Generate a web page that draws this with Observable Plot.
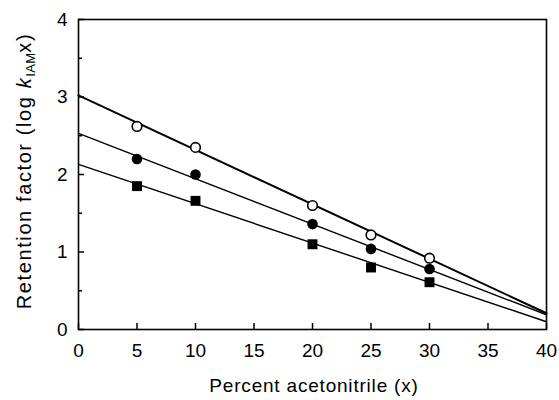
<!DOCTYPE html>
<html>
<head>
<meta charset="utf-8">
<script src="https://cdn.jsdelivr.net/npm/d3@7"></script>
<script src="https://cdn.jsdelivr.net/npm/@observablehq/plot@0.6"></script>
<style>
  html, body { margin: 0; padding: 0; background: #fff; }
  #chart { width: 559px; height: 400px; }
</style>
</head>
<body>
<div id="chart"></div>
<script>
// ---- data ----
const xTicks = [0, 5, 10, 15, 20, 25, 30, 35, 40];
const yTicks = [0, 1, 2, 3, 4];
const yMinorTicks = [0.5, 1.5, 2.5, 3.5];

const percent = [5, 10, 20, 25, 30];
const openCircle = [2.62, 2.35, 1.60, 1.22, 0.92];
const filledCircle = [2.20, 2.00, 1.36, 1.04, 0.78];
const filledSquare = [1.85, 1.66, 1.10, 0.80, 0.61];

const fitX = [0, 40];
const fitOpen = [3.02, 0.21];
const fitFilled = [2.53, 0.19];
const fitSquare = [2.13, 0.10];

const xLabel = "Percent acetonitrile (x)";
const yLabelMain = "Retention factor (log ";
const yLabelK = "k";
const yLabelSub = "IAM";
const yLabelEnd = "x)";

// ---- tables built from the arrays ----
const pts = (vals) => percent.map((p, i) => ({x: p, y: vals[i]}));
const fit = (vals) => fitX.map((p, i) => ({x: p, y: vals[i]}));

const W = 559, H = 400;
const chart = Plot.plot({
  width: W,
  height: H,
  marginLeft: 78,
  marginRight: 13,
  marginTop: 19,
  marginBottom: 71,
  style: {fontFamily: "'Liberation Sans', Arial, sans-serif", fontSize: "19px", color: "black", background: "white"},
  x: {domain: [0, 40], nice: false},
  y: {domain: [0, 4], nice: false},
  marks: [
    Plot.line(fit(fitSquare), {x: "x", y: "y", stroke: "black", strokeWidth: 1.4}),
    Plot.line(fit(fitFilled), {x: "x", y: "y", stroke: "black", strokeWidth: 1.4}),
    Plot.line(fit(fitOpen), {x: "x", y: "y", stroke: "black", strokeWidth: 2}),
    Plot.dot(pts(filledSquare), {x: "x", y: "y", symbol: "square", r: 5.6, fill: "black", stroke: "none"}),
    Plot.dot(pts(filledCircle), {x: "x", y: "y", r: 5.3, fill: "black", stroke: "none"}),
    Plot.dot(pts(openCircle), {x: "x", y: "y", r: 4.8, fill: "white", stroke: "black", strokeWidth: 1.6}),
    Plot.axisX({ticks: xTicks, tickSize: -6, tickPadding: 20, label: null, tickFormat: d => String(d), strokeWidth: 1.5}),
    Plot.axisY({ticks: yTicks, tickSize: -6, tickPadding: 17, label: null, tickFormat: d => String(d), strokeWidth: 1.5}),
    Plot.axisY({ticks: yMinorTicks, tickSize: -4, tickPadding: 0, label: null, tickFormat: () => "", strokeWidth: 1.5}),
    Plot.frame({stroke: "black", strokeWidth: 1.6})
  ]
});

const svg = d3.select(chart);
// x-axis title
svg.append("text")
  .attr("x", 314)
  .attr("y", 392)
  .attr("text-anchor", "middle")
  .attr("font-size", 19)
  .attr("letter-spacing", "0.8px")
  .attr("fill", "black")
  .text(xLabel);

// y-axis title with italic k and subscript
const yt = svg.append("text")
  .attr("transform", "translate(31,171) rotate(-90)")
  .attr("text-anchor", "middle")
  .attr("font-size", 20)
  .attr("letter-spacing", "1.6px")
  .attr("fill", "black");
yt.append("tspan").text(yLabelMain);
yt.append("tspan").attr("font-style", "italic").text(yLabelK);
yt.append("tspan").attr("font-size", 13).attr("letter-spacing", "0.3px").attr("dy", 4).text(yLabelSub);
yt.append("tspan").attr("dy", -4).text(yLabelEnd);

document.getElementById("chart").appendChild(chart);
</script>
</body>
</html>
